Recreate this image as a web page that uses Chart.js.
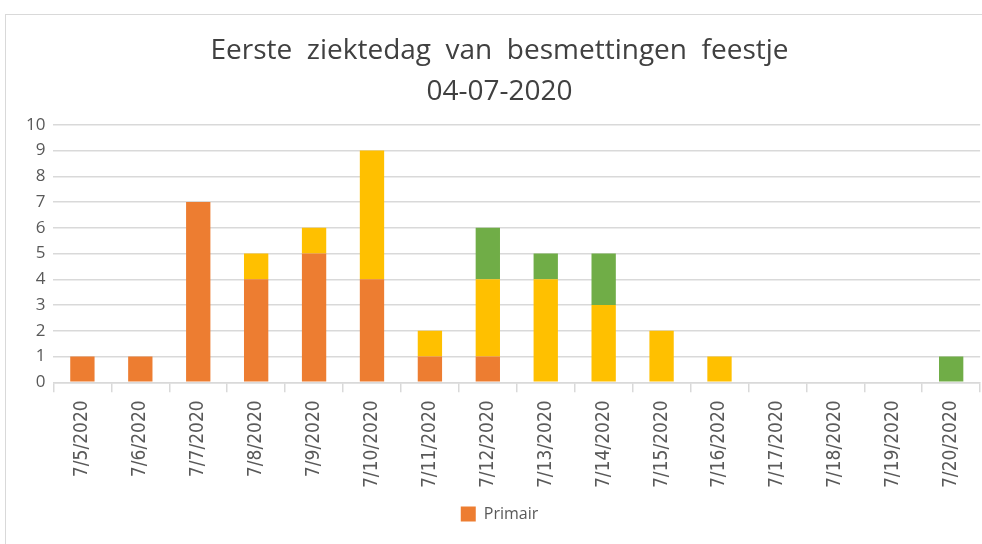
<!DOCTYPE html>
<html>
<head>
<meta charset="utf-8">
<script src="https://cdn.jsdelivr.net/npm/chart.js@4"></script>
<style>
  html, body { margin: 0; padding: 0; background: #fff; }
  #frame { position: absolute; left: 5px; top: 14px; width: 990px; height: 540px; border: 1px solid #d9d9d9; box-sizing: border-box; }
  #wrap { position: absolute; left: 0; top: 0; width: 982px; height: 544px; }
</style>
</head>
<body>
<div id="frame"></div>
<div id="wrap"><canvas id="chart-bars"></canvas></div>
<script>
var dagen = ["7/5/2020", "7/6/2020", "7/7/2020", "7/8/2020", "7/9/2020", "7/10/2020", "7/11/2020", "7/12/2020",
  "7/13/2020", "7/14/2020", "7/15/2020", "7/16/2020", "7/17/2020", "7/18/2020", "7/19/2020", "7/20/2020"];
var primair = [1, 1, 7, 4, 5, 4, 1, 1, 0, 0, 0, 0, 0, 0, 0, 0];
var secundair = [0, 0, 0, 1, 1, 5, 1, 3, 4, 3, 2, 1, 0, 0, 0, 0];
var tertiair = [0, 0, 0, 0, 0, 0, 0, 2, 1, 2, 0, 0, 0, 0, 0, 1];
var titel = ["Eerste  ziektedag  van  besmettingen  feestje", "04-07-2020"];

var ctx = document.getElementById("chart-bars").getContext("2d");

new Chart(ctx, {
  type: "bar",
  data: {
    labels: dagen,
    datasets: [
      {
        label: "Primair",
        backgroundColor: "#ed7d31",
        data: primair,
        barPercentage: 0.42,
        categoryPercentage: 1,
      },
      {
        label: "Secundair",
        backgroundColor: "#ffc000",
        data: secundair,
        barPercentage: 0.42,
        categoryPercentage: 1,
      },
      {
        label: "Tertiair",
        backgroundColor: "#70ad47",
        data: tertiair,
        barPercentage: 0.42,
        categoryPercentage: 1,
      },
    ],
  },
  options: {
    responsive: true,
    maintainAspectRatio: false,
    animation: false,
    layout: {
      padding: { left: 18, right: 1, top: 31, bottom: 12 },
    },
    plugins: {
      title: {
        display: true,
        text: titel,
        color: "#404040",
        font: { size: 28, family: "Open Sans", weight: 400, lineHeight: 1.46 },
        padding: { top: 0, bottom: 12 },
      },
      legend: {
        position: "bottom",
        labels: {
          filter: function (item) {
            return item.text === "Primair";
          },
          boxWidth: 15,
          boxHeight: 15,
          color: "#595959",
          padding: 10,
          font: { size: 16, family: "Open Sans" },
        },
      },
      tooltip: { enabled: false },
    },
    scales: {
      x: {
        stacked: true,
        grid: {
          display: true,
          drawOnChartArea: false,
          drawTicks: true,
          tickLength: 10,
          offset: true,
          color: "#d9d9d9",
          lineWidth: 1.5,
        },
        border: { color: "#d9d9d9", width: 1.5 },
        ticks: {
          minRotation: 90,
          maxRotation: 90,
          autoSkip: false,
          padding: 8,
          color: "#595959",
          font: { size: 19, family: "DejaVu Sans Condensed, Liberation Sans Narrow, DejaVu Sans" },
        },
      },
      y: {
        stacked: true,
        min: 0,
        max: 10,
        grid: {
          drawTicks: false,
          color: "#d9d9d9",
          lineWidth: 1.5,
        },
        border: { display: false },
        ticks: {
          stepSize: 1,
          padding: 8,
          color: "#595959",
          font: { size: 17, family: "Open Sans" },
        },
      },
    },
  },
});
</script>
</body>
</html>
